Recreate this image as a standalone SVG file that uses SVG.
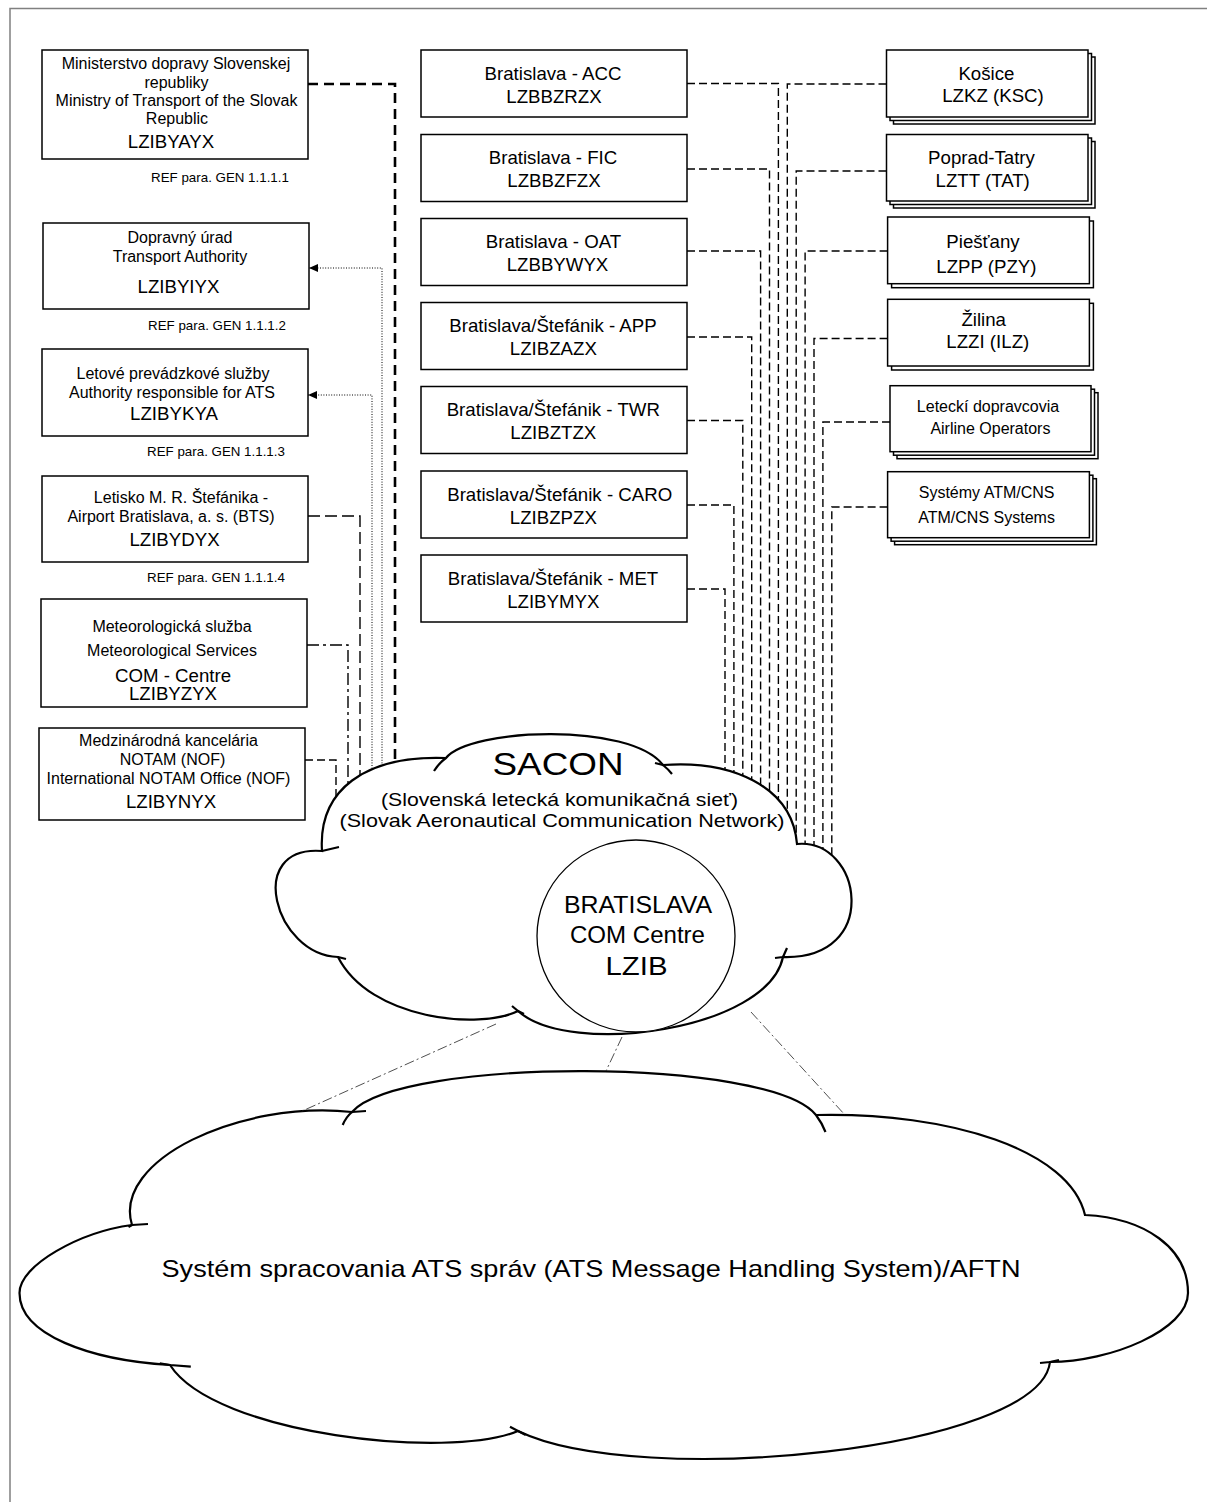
<svg xmlns="http://www.w3.org/2000/svg" width="1207" height="1502" viewBox="0 0 1207 1502">
<style>
text{font-family:"Liberation Sans",Arial,sans-serif;fill:#000;text-anchor:middle}
.s{font-size:16px}
.m{font-size:18.67px}
.r{font-size:13.33px}
.box{fill:#fff;stroke:#000;stroke-width:1.5}
.frame{fill:none;stroke:#808080;stroke-width:1.5}
.cn{fill:none;stroke:#000;stroke-width:1.4}
.thick{stroke-width:2.6;stroke-dasharray:10 6}
.dash{stroke-dasharray:8 4}
.long{stroke-dasharray:12 5}
.dd{stroke-dasharray:12 4 3 4}
.dot{stroke-width:1;stroke-dasharray:1 1.6}
.link{fill:none;stroke:#222;stroke-width:0.8;stroke-dasharray:10 3 2 3}
.cloud{fill:#fff;stroke:#000;stroke-width:2.2}
.tick{fill:none;stroke:#000;stroke-width:2.2}
</style>
<defs>
<marker id="arr" markerUnits="userSpaceOnUse" markerWidth="10" markerHeight="9" refX="9" refY="4" orient="auto">
<path d="M0,0 L9,4 L0,8 z" fill="#000"/>
</marker>
</defs>
<path class="frame" d="M10,1510 V8.5 H1215"/>

<g id="connectors">
<path class="cn thick" d="M308,84 H395 V792"/>
<path class="cn dot" d="M382,792 V268 H309" marker-end="url(#arr)"/>
<path class="cn dot" d="M372,792 V395 H308" marker-end="url(#arr)"/>
<path class="cn long" d="M308,516 H360 V805"/>
<path class="cn dd" d="M307,645 H348 V805"/>
<path class="cn dash" d="M305,760 H336 V825"/>
<path class="cn dash" d="M687,83.5 H778.4 V905"/>
<path class="cn dash" d="M687,169 H769.5 V905"/>
<path class="cn dash" d="M687,251 H760.6 V905"/>
<path class="cn dash" d="M687,337 H751.7 V905"/>
<path class="cn dash" d="M687,420.5 H742.8 V905"/>
<path class="cn dash" d="M687,505 H733.9 V905"/>
<path class="cn dash" d="M687,589 H725 V905"/>
<path class="cn dash" d="M886.5,84 H787.3 V905"/>
<path class="cn dash" d="M886.5,171 H796.2 V905"/>
<path class="cn dash" d="M887.6,251 H805.1 V905"/>
<path class="cn dash" d="M887.6,338.5 H814 V905"/>
<path class="cn dash" d="M890,422 H822.9 V905"/>
<path class="cn dash" d="M887.6,507 H831.8 V905"/>
</g>

<g id="sacon">
<path class="cloud" d="M322,851 C318,790 365,755 446,758 C470,728 630,722 663,765 C730,760 792,785 797,844 C862,838 882,960 783,957 C768,1030 570,1058 518,1011 C480,1030 370,1020 338,957 C275,955 244,845 322,851 Z"/>
<path class="tick" d="M446,758 Q439,763 434,771 M663,765 L655,763 M663,765 Q668,769 672,774 M783,957 L775,958 M783,957 L787,948 M518,1011 L512,1006 M518,1011 L524,1014 M338,957 L346,959 M322,851 L339,847"/>
<text x="558" y="775" font-size="31" textLength="131" lengthAdjust="spacingAndGlyphs">SACON</text>
<text x="559.5" y="806" font-size="19" textLength="357" lengthAdjust="spacingAndGlyphs">(Slovenská letecká komunikačná sieť)</text>
<text x="562" y="827" font-size="19" textLength="445" lengthAdjust="spacingAndGlyphs">(Slovak Aeronautical Communication Network)</text>
</g>

<g id="com-centre">
<ellipse cx="636" cy="936" rx="99" ry="96" fill="#fff" stroke="#000" stroke-width="1.3"/>
<text x="638" y="913" font-size="23" textLength="148" lengthAdjust="spacingAndGlyphs">BRATISLAVA</text>
<text x="637.5" y="943" font-size="23" textLength="135" lengthAdjust="spacingAndGlyphs">COM Centre</text>
<text x="636.5" y="975" font-size="25.5" textLength="62" lengthAdjust="spacingAndGlyphs">LZIB</text>
</g>

<g id="aftn">
<path class="cloud" d="M132,1225 C112,1160 240,1100 352,1112 C400,1057 770,1057 816,1115 C950,1112 1070,1150 1085,1215 C1145,1218 1188,1248 1188,1293 C1188,1330 1110,1362 1050,1362 C1040,1450 640,1490 518,1431 C450,1460 215,1435 170,1365 C90,1360 19.5,1335 19.5,1293 C19.5,1265 80,1232 132,1225 Z"/>
<path class="tick" d="M352,1112 Q346,1117 342.7,1125 M352,1112 L366,1111 M816,1115 Q822,1123 825.5,1132 M1050,1362 L1040,1363 M1050,1362 L1059,1360 M518,1431 L510,1426.7 M518,1431 L525.7,1435 M170,1365 L159.7,1363.3 M170,1365 L190.8,1366.7 M132,1225 L128.5,1227 M132,1225 L148,1224"/>
<text x="591" y="1277" font-size="24" textLength="859" lengthAdjust="spacingAndGlyphs">Systém spracovania ATS správ (ATS Message Handling System)/AFTN</text>
</g>

<g id="cloud-links">
<path class="link" d="M496,1024 L300,1112"/>
<path class="link" d="M622,1037 L606,1071"/>
<path class="link" d="M751,1012 L845,1115"/>
</g>

<g id="n-ministry">
<rect class="box" x="42" y="50" width="266" height="109"/>
<text class="s" x="176" y="69">Ministerstvo dopravy Slovenskej</text>
<text class="s" x="176.5" y="87.5">republiky</text>
<text class="s" x="176.5" y="106">Ministry of Transport of the Slovak</text>
<text class="s" x="177" y="124">Republic</text>
<text class="m" x="171" y="148">LZIBYAYX</text>
<text class="r" x="220" y="181.5">REF para. GEN 1.1.1.1</text>
</g>
<g id="n-dopravny">
<rect class="box" x="43" y="223" width="266" height="86"/>
<text class="s" x="180" y="242.5">Dopravný úrad</text>
<text class="s" x="180" y="261.5">Transport Authority</text>
<text class="m" x="178.5" y="292.5">LZIBYIYX</text>
<text class="r" x="217" y="330">REF para. GEN 1.1.1.2</text>
</g>
<g id="n-letove">
<rect class="box" x="42" y="349" width="266" height="87"/>
<text class="s" x="173" y="378.5">Letové prevádzkové služby</text>
<text class="s" x="172" y="398">Authority responsible for ATS</text>
<text class="m" x="174" y="420">LZIBYKYA</text>
<text class="r" x="216" y="455.5">REF para. GEN 1.1.1.3</text>
</g>
<g id="n-letisko">
<rect class="box" x="42" y="476" width="266" height="86"/>
<text class="s" x="181" y="502.5">Letisko M. R. Štefánika -</text>
<text class="s" x="171" y="521.5">Airport Bratislava, a. s. (BTS)</text>
<text class="m" x="174.5" y="546">LZIBYDYX</text>
<text class="r" x="216" y="582">REF para. GEN 1.1.1.4</text>
</g>
<g id="n-meteo">
<rect class="box" x="41" y="599" width="266" height="108"/>
<text class="s" x="172" y="631.5">Meteorologická služba</text>
<text class="s" x="172" y="655.5">Meteorological Services</text>
<text class="m" x="173" y="682">COM - Centre</text>
<text class="m" x="173" y="700">LZIBYZYX</text>
</g>
<g id="n-nof">
<rect class="box" x="39" y="728" width="266" height="92"/>
<text class="s" x="168.5" y="745.5">Medzinárodná kancelária</text>
<text class="s" x="172.5" y="765">NOTAM (NOF)</text>
<text class="s" x="168.5" y="784">International NOTAM Office (NOF)</text>
<text class="m" x="171" y="807.5">LZIBYNYX</text>
</g>

<g id="n-acc">
<rect class="box" x="421" y="50" width="266" height="67"/>
<text class="m" x="553" y="79.5">Bratislava - ACC</text>
<text class="m" x="554" y="102.7">LZBBZRZX</text>
</g>
<g id="n-fic">
<rect class="box" x="421" y="134.5" width="266" height="67"/>
<text class="m" x="553" y="164">Bratislava - FIC</text>
<text class="m" x="554" y="187.2">LZBBZFZX</text>
</g>
<g id="n-oat">
<rect class="box" x="421" y="218.5" width="266" height="67"/>
<text class="m" x="553.5" y="248">Bratislava - OAT</text>
<text class="m" x="557.5" y="271.2">LZBBYWYX</text>
</g>
<g id="n-app">
<rect class="box" x="421" y="302.5" width="266" height="67"/>
<text class="m" x="553" y="332">Bratislava/Štefánik - APP</text>
<text class="m" x="553.3" y="355.2">LZIBZAZX</text>
</g>
<g id="n-twr">
<rect class="box" x="421" y="386.5" width="266" height="67"/>
<text class="m" x="553.3" y="416">Bratislava/Štefánik - TWR</text>
<text class="m" x="553.3" y="439.2">LZIBZTZX</text>
</g>
<g id="n-caro">
<rect class="box" x="421" y="471" width="266" height="67"/>
<text class="m" x="559.7" y="500.5">Bratislava/Štefánik - CARO</text>
<text class="m" x="553.3" y="523.7">LZIBZPZX</text>
</g>
<g id="n-met">
<rect class="box" x="421" y="555" width="266" height="67"/>
<text class="m" x="553" y="584.5">Bratislava/Štefánik - MET</text>
<text class="m" x="553.3" y="607.7">LZIBYMYX</text>
</g>

<g id="n-kosice">
<rect class="box" x="893.5" y="57" width="201.5" height="67"/>
<rect class="box" x="890" y="53.5" width="201.5" height="67"/>
<rect class="box" x="886.5" y="50" width="201.5" height="67"/>
<text class="m" x="986.4" y="79.5">Košice</text>
<text class="m" x="993" y="101.5">LZKZ (KSC)</text>
</g>
<g id="n-poprad">
<rect class="box" x="893.5" y="141.5" width="201.5" height="66.5"/>
<rect class="box" x="890" y="138" width="201.5" height="66.5"/>
<rect class="box" x="886.5" y="134.5" width="201.5" height="66.5"/>
<text class="m" x="981.5" y="163.5">Poprad-Tatry</text>
<text class="m" x="982.7" y="187">LZTT (TAT)</text>
</g>
<g id="n-piestany">
<rect class="box" x="891.6" y="221" width="201.8" height="66.7"/>
<rect class="box" x="887.6" y="217" width="201.8" height="66.7"/>
<text class="m" x="983" y="248">Piešťany</text>
<text class="m" x="986.4" y="273">LZPP (PZY)</text>
</g>
<g id="n-zilina">
<rect class="box" x="891.6" y="303.3" width="201.8" height="66.7"/>
<rect class="box" x="887.6" y="299.3" width="201.8" height="66.7"/>
<text class="m" x="983.7" y="326">Žilina</text>
<text class="m" x="987.8" y="348">LZZI (ILZ)</text>
</g>
<g id="n-airlines">
<rect class="box" x="897" y="392.7" width="201" height="66"/>
<rect class="box" x="893.5" y="389.2" width="201" height="66"/>
<rect class="box" x="890" y="385.7" width="201" height="66"/>
<text class="s" x="988" y="412.2">Leteckí dopravcovia</text>
<text class="s" x="990.4" y="433.5">Airline Operators</text>
</g>
<g id="n-atmcns">
<rect class="box" x="894.6" y="478.7" width="201.8" height="66"/>
<rect class="box" x="891.1" y="475.2" width="201.8" height="66"/>
<rect class="box" x="887.6" y="471.7" width="201.8" height="66"/>
<text class="s" x="986.6" y="498">Systémy ATM/CNS</text>
<text class="s" x="986.6" y="522.5">ATM/CNS Systems</text>
</g>
</svg>
